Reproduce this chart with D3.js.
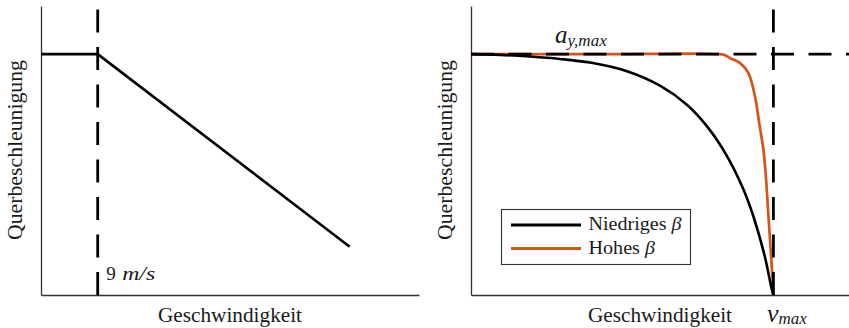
<!DOCTYPE html>
<html>
<head>
<meta charset="utf-8">
<script src="https://cdn.jsdelivr.net/npm/d3@7"></script>
<style>
  html, body { margin: 0; padding: 0; background: #fff; }
  svg { display: block; }
  text { font-family: "Liberation Serif", "DejaVu Serif", serif; fill: #1a1a1a; }
</style>
</head>
<body>
<svg id="chart" width="849" height="328"></svg>
<script>
// ---------- data ----------
const aMax = 1;              // normalised a_y,max
const vMax = 1;              // normalised v_max
const yLimit = [0, 1.2];

// left panel: speed in m/s, lateral acceleration normalised
const leftXLimit = [0, 60];
const leftSpeed = [0, 9, 49];
const leftAccel = [1, 1, 0.2];
const leftThreshold = 9;
const leftThresholdLabel = "9";
const leftThresholdUnit = "m/s";

// right panel: speed normalised by v_max
const rightXLimit = [0, 1.25];
const lowBetaSpeed = [0, 0.096, 0.195, 0.294, 0.403, 0.516, 0.625, 0.714, 0.780, 0.847, 0.900, 0.934, 0.972, 0.995, 1.0];
const lowBetaAccel = [1, 0.997, 0.990, 0.980, 0.963, 0.929, 0.869, 0.790, 0.701, 0.576, 0.441, 0.326, 0.158, 0.021, 0];
const highBetaSpeed = [0, 0.427, 0.823, 0.840, 0.856, 0.890, 0.917, 0.939, 0.953, 0.967, 0.976, 0.983, 0.991, 1.0];
const highBetaAccel = [1, 1, 1, 0.996, 0.984, 0.963, 0.922, 0.825, 0.714, 0.603, 0.477, 0.338, 0.190, 0];

const seriesNames = ["Niedriges", "Hohes"];
const seriesColors = ["#000000", "#D95319"];
const xLabel = "Geschwindigkeit";
const yLabel = "Querbeschleunigung";

// ---------- drawing ----------
const svg = d3.select("#chart");
const spineColor = "#333";
const dash = "23,14.5";

function panel(x0, xDomain) {
  const x = d3.scaleLinear().domain(xDomain).range([x0, x0 + 378]);
  const y = d3.scaleLinear().domain(yLimit).range([295, 6]);
  const g = svg.append("g");
  g.append("g").attr("transform", "translate(0,295)")
    .call(d3.axisBottom(x).tickValues([]).tickSizeOuter(0));
  g.append("g").attr("transform", `translate(${x0},0)`)
    .call(d3.axisLeft(y).tickValues([]).tickSizeOuter(0));
  g.selectAll(".domain").attr("stroke", spineColor).attr("stroke-width", 1.3);
  g.append("text").attr("x", x0 + 189).attr("y", 322)
    .attr("text-anchor", "middle").attr("font-size", 20)
    .attr("textLength", 144).attr("lengthAdjust", "spacingAndGlyphs")
    .text(xLabel);
  g.append("text").attr("transform", `translate(${x0 - 19},150) rotate(-90)`)
    .attr("text-anchor", "middle").attr("font-size", 20)
    .attr("textLength", 180).attr("lengthAdjust", "spacingAndGlyphs")
    .text(yLabel);
  return { g, x, y };
}

// Left panel
{
  const { g, x, y } = panel(41, leftXLimit);
  const pts = leftSpeed.map((v, i) => [v, leftAccel[i]]);
  g.append("path").datum(pts)
    .attr("d", d3.line().x(d => x(d[0])).y(d => y(d[1])))
    .attr("fill", "none").attr("stroke", "#000").attr("stroke-width", 2.6);
  g.append("path").datum([[leftThreshold, yLimit[0]], [leftThreshold, yLimit[1]]])
    .attr("d", d3.line().x(d => x(d[0])).y(d => y(d[1])))
    .attr("fill", "none").attr("stroke", "#000").attr("stroke-width", 2.8)
    .attr("stroke-dasharray", dash);
  const t = g.append("text").attr("y", 280).attr("font-size", 19);
  t.append("tspan").attr("x", x(leftThreshold) + 8.5).text(leftThresholdLabel);
  t.append("tspan").attr("x", x(leftThreshold) + 24.5).attr("font-style", "italic")
    .attr("textLength", 33).attr("lengthAdjust", "spacingAndGlyphs").text(leftThresholdUnit);
}

// Right panel
{
  const { g, x, y } = panel(471, rightXLimit);
  const line = d3.line().x(d => x(d[0])).y(d => y(d[1])).curve(d3.curveCatmullRom.alpha(0.5));
  const high = highBetaSpeed.map((v, i) => [v, highBetaAccel[i]]);
  const low = lowBetaSpeed.map((v, i) => [v, lowBetaAccel[i]]);
  g.append("path").datum(high).attr("d", line)
    .attr("fill", "none").attr("stroke", seriesColors[1]).attr("stroke-width", 2.7);
  g.append("path").datum(low).attr("d", line)
    .attr("fill", "none").attr("stroke", seriesColors[0]).attr("stroke-width", 2.6);
  const straight = d3.line().x(d => x(d[0])).y(d => y(d[1]));
  g.append("path").datum([[rightXLimit[0], aMax], [rightXLimit[1], aMax]]).attr("d", straight)
    .attr("fill", "none").attr("stroke", "#000").attr("stroke-width", 2.8)
    .attr("stroke-dasharray", dash);
  g.append("path").datum([[vMax, yLimit[0]], [vMax, yLimit[1]]]).attr("d", straight)
    .attr("fill", "none").attr("stroke", "#000").attr("stroke-width", 2.8)
    .attr("stroke-dasharray", dash);

  const a = g.append("text").attr("x", 555).attr("y", 43).attr("font-style", "italic");
  a.append("tspan").attr("font-size", 25).text("a");
  a.append("tspan").attr("font-size", 17).attr("dy", 3).text("y,max");
  const v = g.append("text").attr("x", 767).attr("y", 322).attr("font-style", "italic");
  v.append("tspan").attr("font-size", 26).text("v");
  v.append("tspan").attr("font-size", 17).attr("dy", 2).text("max");

  const lg = g.append("g");
  lg.append("rect").attr("x", 501.5).attr("y", 209.5).attr("width", 189).attr("height", 55)
    .attr("fill", "#fff").attr("stroke", spineColor).attr("stroke-width", 1.1);
  const rows = [{ y: 225, base: 230, len: 93 }, { y: 248.5, base: 254, len: 66.5 }];
  rows.forEach((r, i) => {
    lg.append("line").attr("x1", 511).attr("x2", 581).attr("y1", r.y).attr("y2", r.y)
      .attr("stroke", seriesColors[i]).attr("stroke-width", 2.8);
    const t = lg.append("text").attr("x", 588.5).attr("y", r.base).attr("font-size", 19)
      .attr("textLength", r.len).attr("lengthAdjust", "spacingAndGlyphs");
    t.append("tspan").text(seriesNames[i] + " ");
    t.append("tspan").attr("font-style", "italic").text("β");
  });
}
</script>
</body>
</html>
